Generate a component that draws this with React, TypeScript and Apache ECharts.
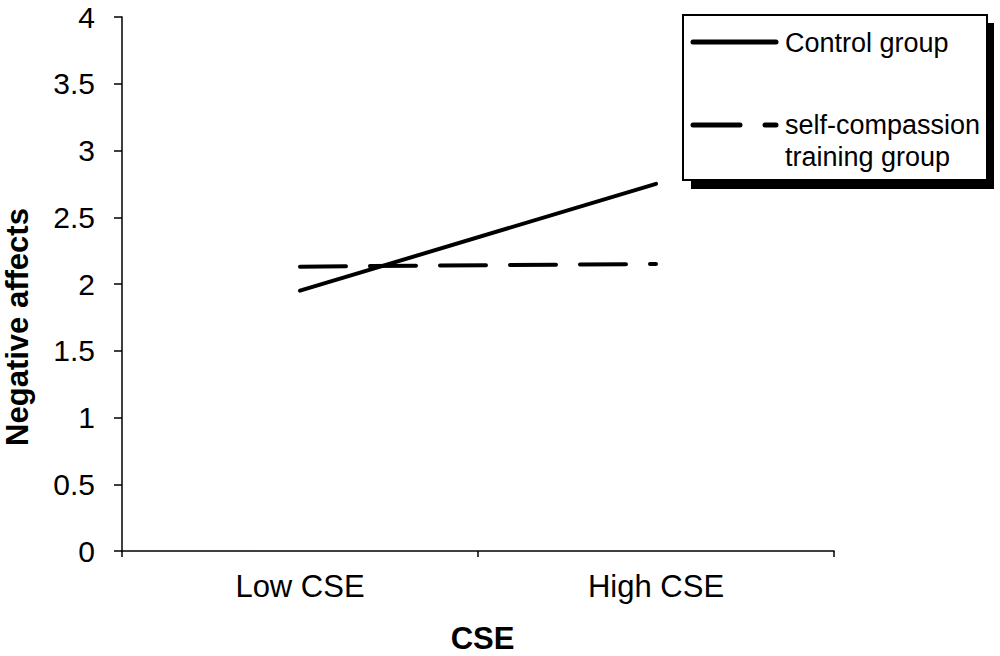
import React, { useEffect, useRef } from "react";
import * as echarts from "echarts";

const categories = ["Low CSE", "High CSE"];
const controlGroup = [1.95, 2.75];
const selfCompassionGroup = [2.13, 2.15];
const seriesNames = ["Control group", "self-compassion training group"];
const yTicks = { min: 0, max: 4, interval: 0.5 };

export default function App() {
  const ref = useRef<HTMLDivElement>(null);
  useEffect(() => {
    if (!ref.current) return;
    const chart = echarts.init(ref.current, undefined, { renderer: "svg" });
    const font = "'Liberation Sans', Arial, sans-serif";
    chart.setOption({
      animation: false,
      backgroundColor: "#fff",
      textStyle: { fontFamily: font, color: "#000" },
      grid: { left: 122, right: 166, top: 17, bottom: 105, containLabel: false, outerBoundsMode: "none" },
      xAxis: {
        type: "category",
        data: categories,
        boundaryGap: true,
        name: "CSE",
        nameLocation: "middle",
        nameGap: 72,
        nameTextStyle: { fontSize: 31, fontWeight: "bold", color: "#000", fontFamily: font, padding: [0, 0, 0, 9] },
        axisLine: { lineStyle: { color: "#000", width: 1.5 } },
        axisTick: { show: true, length: 6, alignWithLabel: false, lineStyle: { color: "#000", width: 1.5 } },
        axisLabel: { fontSize: 31, color: "#000", margin: 20, fontFamily: font },
        splitLine: { show: false },
      },
      yAxis: {
        type: "value",
        min: yTicks.min,
        max: yTicks.max,
        interval: yTicks.interval,
        name: "Negative affects",
        nameLocation: "middle",
        nameGap: 89,
        nameTextStyle: { fontSize: 31, fontWeight: "bold", color: "#000", fontFamily: font, padding: [0, 86, 0, 0] },
        axisLine: { show: true, lineStyle: { color: "#000", width: 1.5 } },
        axisTick: { show: true, length: 8, lineStyle: { color: "#000", width: 1.5 } },
        axisLabel: { fontSize: 30, color: "#000", margin: 27, fontFamily: font },
        splitLine: { show: false },
      },
      series: [
        {
          name: seriesNames[0],
          type: "line",
          data: controlGroup,
          symbol: "none",
          lineStyle: { color: "#000", width: 4, cap: "round" },
        },
        {
          name: seriesNames[1],
          type: "line",
          data: selfCompassionGroup,
          symbol: "none",
          lineStyle: { color: "#000", width: 4, type: [46, 24], cap: "round" },
        },
      ],
      graphic: [
        { type: "rect", shape: { x: 691, y: 23, width: 303, height: 166 }, style: { fill: "#000" } },
        { type: "rect", shape: { x: 683, y: 15, width: 304, height: 165 }, style: { fill: "#fff", stroke: "#000", lineWidth: 2 } },
        { type: "line", shape: { x1: 693, y1: 42, x2: 776, y2: 42 }, style: { stroke: "#000", lineWidth: 5, lineCap: "round" } },
        { type: "line", shape: { x1: 693, y1: 125, x2: 740, y2: 125 }, style: { stroke: "#000", lineWidth: 5, lineCap: "round" } },
        { type: "line", shape: { x1: 765, y1: 125, x2: 776, y2: 125 }, style: { stroke: "#000", lineWidth: 5, lineCap: "round" } },
        { type: "text", x: 785, y: 43, style: { text: "Control group", font: `27px ${font}`, fill: "#000", verticalAlign: "middle", align: "left" } },
        { type: "text", x: 785, y: 125, style: { text: "self-compassion", font: `27px ${font}`, fill: "#000", verticalAlign: "middle", align: "left" } },
        { type: "text", x: 785, y: 157, style: { text: "training group", font: `27px ${font}`, fill: "#000", verticalAlign: "middle", align: "left" } },
      ],
    });
    return () => chart.dispose();
  }, []);
  return <div ref={ref} style={{ width: 1000, height: 656, position: "absolute", left: 0, top: 0 }} />;
}
